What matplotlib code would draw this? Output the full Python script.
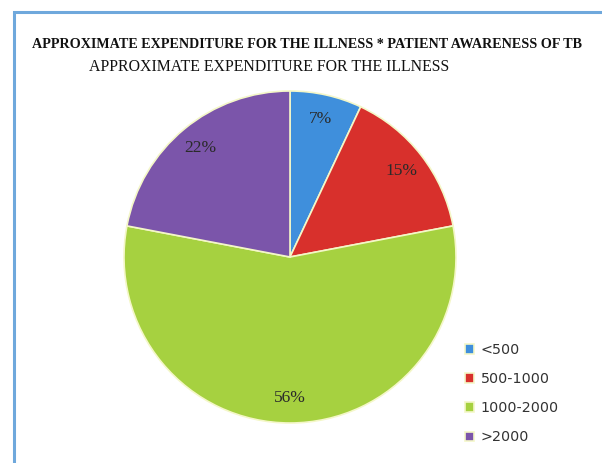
import matplotlib
matplotlib.use("Agg")
import matplotlib.pyplot as plt
from matplotlib.patches import Rectangle

# data
labels = ["<500", "500-1000", "1000-2000", ">2000"]
shares = [7, 15, 56, 22]
colors = ["#3f8fdc", "#d8302c", "#a6d140", "#7b55aa"]

fig = plt.figure(figsize=(6.02, 4.63), dpi=100)
fig.patch.set_facecolor("white")

# blue frame (runs off right/bottom like the screenshot)
fig.add_artist(Rectangle((14/602, -0.1), 1.0, (463 - 12)/463 + 0.1, transform=fig.transFigure,
                         fill=False, ec="#6fa8dc", lw=2.2))

fig.text(307/602, 1 - 44/463, "APPROXIMATE EXPENDITURE FOR THE ILLNESS * PATIENT AWARENESS OF TB",
         family="Liberation Serif", weight="bold", fontsize=10.2, ha="center", va="center", color="#111")
fig.text(269/602, 1 - 67/463, "APPROXIMATE EXPENDITURE FOR THE ILLNESS",
         family="Liberation Serif", fontsize=11.4, ha="center", va="center", color="#111")

# pie: centre (290,257), radius ~166 px
r = 166
ax = fig.add_axes([(290 - r)/602, 1 - (257 + r)/463, 2*r/602, 2*r/463])
wedges, texts, autotexts = ax.pie(
    shares, colors=colors, startangle=90, counterclock=False,
    autopct="%d%%", pctdistance=0.85,
    wedgeprops=dict(edgecolor="#f4f7c8", linewidth=1.2),
    textprops=dict(family="Liberation Serif", fontsize=12.5, color="#2a2a2a"))
ax.set_xlim(-1, 1)
ax.set_ylim(-1, 1)
ax.set_aspect("equal")

fig.legend(wedges, labels, loc="upper left", bbox_to_anchor=(452/602, 1 - 330/463),
           frameon=False, prop=dict(family="DejaVu Sans", size=10.3),
           labelcolor="#333333",
           handlelength=0.65, handleheight=0.65, handletextpad=0.45, labelspacing=1.06)

fig.savefig("out.png", dpi=100)
